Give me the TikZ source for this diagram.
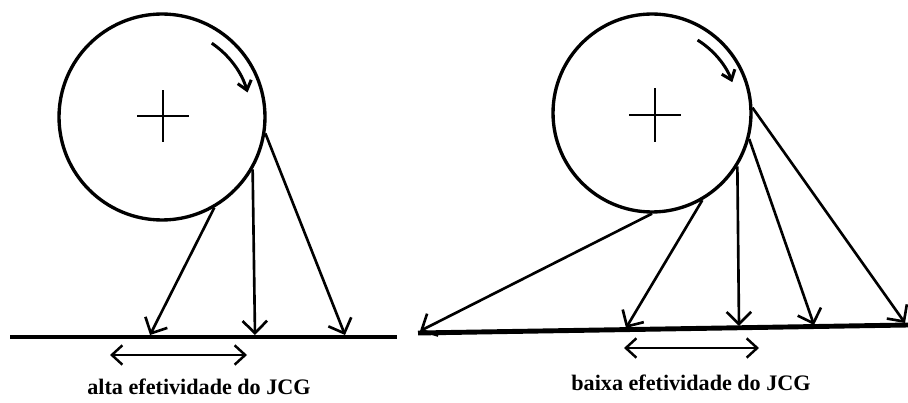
\documentclass[tikz,border=0pt]{standalone}
\usepackage{fontspec}
\setmainfont{Liberation Serif}
\usetikzlibrary{arrows.meta}
\begin{document}
\begin{tikzpicture}[x=0.02cm, y=0.02cm, >={Straight Barb[length=7pt,width=14pt]},
		wheel/.style={circle, draw, line width=1.9pt, inner sep=0pt},
		force/.style={->, line width=1.5pt},
		ground/.style={line width=2.8pt},
		span/.style={{Straight Barb[length=6pt,width=11pt]}-{Straight Barb[length=6pt,width=11pt]}, line width=1.4pt},
		spin/.style={-{Straight Barb[length=5pt,width=8pt]}, line width=1.7pt},
		label/.style={font=\fontsize{12.6}{15}\selectfont\bfseries}]
		\useasboundingbox (0,0) rectangle (908,402);
		\node[wheel, minimum size=4.12cm] (wheelL) at (162,285) {};
		\node[wheel, minimum size=3.96cm] (wheelR) at (652,289) {};
		\draw[line width=1.6pt] (163,286) ++(-26,0) -- ++(52,0) (163,286) ++(0,-26) -- ++(0,52);
		\draw[line width=1.6pt] (655,287) ++(-26,0) -- ++(52,0) (655,287) ++(0,-27) -- ++(0,54);
		\draw[spin] (wheelL.center) ++(56:89) arc[start angle=56, end angle=16, radius=89];
		\draw[spin] (wheelR.center) ++(58:86) arc[start angle=58, end angle=21, radius=86];
		\coordinate (gL1) at (10,65);
		\coordinate (gL2) at (397,65);
		\coordinate (gR1) at (418,69);
		\coordinate (gR2) at (908,77);
		\draw[ground] (gL1) -- (gL2);
		\draw[ground] (gR1) -- (gR2);
		\coordinate (tL1) at (150,67);
		\coordinate (tL2) at (255,67);
		\coordinate (tL3) at (345,67);
		\draw[force] (wheelL.-60) -- (tL1);
		\draw[force] (wheelL.-30) -- (tL2);
		\draw[force] (wheelL.-9) -- (tL3);
		\coordinate (tR1) at (420,71);
		\coordinate (tR2) at (626,74);
		\coordinate (tR3) at (739,76);
		\coordinate (tR4) at (814,77);
		\coordinate (tR5) at (905,79);
		\draw[force] (wheelR.-90) -- (tR1);
		\draw[force] (wheelR.-60) -- (tR2);
		\draw[force] (wheelR.-32) -- (tR3);
		\draw[force] (wheelR.-15) -- (tR4);
		\draw[force] (wheelR.3) -- (tR5);
		\coordinate (sL1) at (110,47);
		\coordinate (sL2) at (247,47);
		\coordinate (sR1) at (624,54);
		\coordinate (sR2) at (759,54);
		\draw[span] (sL1) -- (sL2);
		\draw[span] (sR1) -- (sR2);
		\node[label] (textL) at (199,15) {alta efetividade do JCG};
		\node[label] (textR) at (691,19) {baixa efetividade do JCG};
	\end{tikzpicture}
\end{document}
